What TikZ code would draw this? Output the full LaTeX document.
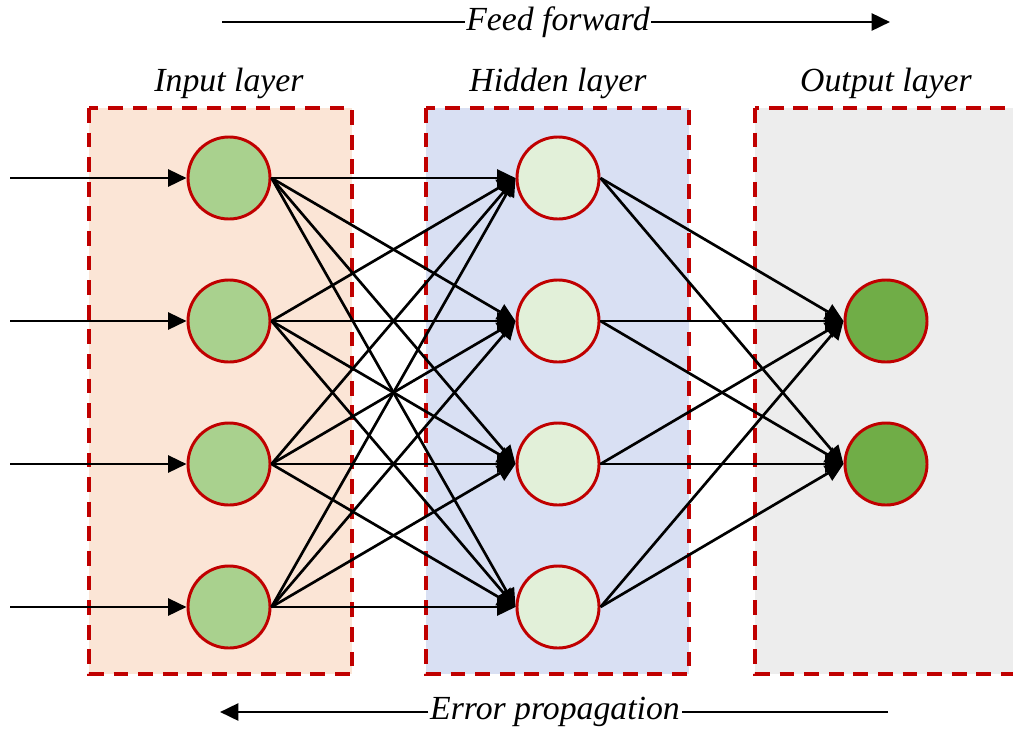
\documentclass[tikz,border=0pt]{standalone}
\usepackage{fontspec}
\setmainfont{Liberation Serif}
\usetikzlibrary{arrows.meta}
\definecolor{frame}{HTML}{C00000}
\definecolor{inbg}{HTML}{FBE5D6}
\definecolor{hidbg}{HTML}{D9E0F3}
\definecolor{outbg}{HTML}{EDEDED}
\definecolor{inball}{HTML}{A9D18E}
\definecolor{hidball}{HTML}{E2F0D9}
\definecolor{outball}{HTML}{70AD47}
\tikzset{
  layerbox/.style={draw=frame, line width=2.2pt, dash pattern=on 10.5pt off 7pt},
  neuron/.style={circle, draw=frame, line width=2.1pt, minimum size=2.05cm, inner sep=0pt},
  tip/.style={-{Triangle[length=13pt,width=12pt]}},
  conn/.style={line width=1.9pt, tip},
  flow/.style={line width=2pt},
  lbl/.style={font=\itshape\fontsize{24}{28}\selectfont, inner sep=1pt},
}
\begin{document}
\begin{tikzpicture}[x=0.025cm, y=-0.025cm]
\useasboundingbox (0,0) rectangle (1013,731);

% layer frames
\path[layerbox, fill=inbg] (89,108) rectangle (352,674);
\path[layerbox, fill=hidbg] (426,108) rectangle (689,674);
\path[layerbox, fill=outbg] (755,108) rectangle (1040,674);

% layer titles
\node[lbl] (tin) at (229,83) {Input layer};
\node[lbl] (thid) at (558,83) {Hidden layer};
\node[lbl] (tout) at (886,83) {Output layer};

% neurons
\foreach \k/\y in {1/178,2/321,3/464,4/607} {
  \node[neuron, fill=inball] (i\k) at (229,\y) {};
  \node[neuron, fill=hidball] (h\k) at (558,\y) {};
  \coordinate (s\k) at (10,\y);
}
\node[neuron, fill=outball] (o1) at (886,321) {};
\node[neuron, fill=outball] (o2) at (886,464) {};

% inputs
\foreach \k in {1,...,4} \draw[conn] (s\k) -- (i\k.west);

% input -> hidden
\foreach \a in {1,...,4}
  \foreach \b in {1,...,4}
    \draw[conn] (i\a.east) -- (h\b.west);

% hidden -> output
\foreach \a in {1,...,4}
  \foreach \b in {1,2}
    \draw[conn] (h\a.east) -- (o\b.west);

% direction labels
\node[lbl] (ff) at (558,22) {Feed forward};
\coordinate (ffL) at (222,22);
\coordinate (ffR) at (890,22);
\draw[flow] (ffL) -- (ff.west);
\draw[flow, tip] (ff.east) -- (ffR);

\node[lbl] (ep) at (555,712) {Error propagation};
\coordinate (epL) at (220,712);
\coordinate (epR) at (888,712);
\draw[flow] (epR) -- (ep.east);
\draw[flow, tip] (ep.west) -- (epL);
\end{tikzpicture}
\end{document}
